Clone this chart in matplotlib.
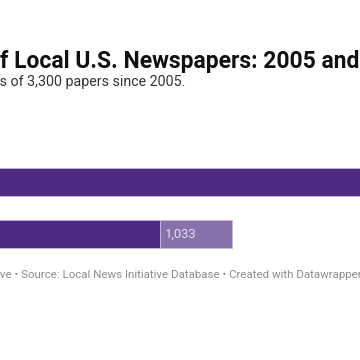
import matplotlib
matplotlib.use("Agg")
import matplotlib.pyplot as plt

# values (dark = weeklies, light = dailies)
years = ["2005", "2025"]
weeklies = [7441, 4567]
dailies = [1450, 1033]

title = "Number of Local U.S. Newspapers: 2005 and 2025"
subtitle = "The country has seen losses of 3,300 papers since 2005."
footer = ("Chart: Medill Local News Initiative \u2022 Source: Local News Initiative "
          "Database \u2022 Created with Datawrapper")

DARK = "#4f2a84"
LIGHT = "#8771ab"
EDGE = "#c6b9dc"

plt.rcParams["font.family"] = ["Roboto", "DejaVu Sans"]

W = H = 360
fig = plt.figure(figsize=(3.6, 3.6), dpi=100)
fig.patch.set_facecolor("white")

# bar area: the chart is cropped, so the axes start left of the canvas
scale = 72 / 1033  # px per paper
x0 = -158
total = max(w + d for w, d in zip(weeklies, dailies))
ax_w = total * scale
ax = fig.add_axes([x0 / W, (H - 256) / H, ax_w / W, 96 / H])
ax.set_xlim(0, total)
ax.set_ylim(1 + 22 / 52, -22 / 52)
ax.axis("off")

ypos = list(range(len(years)))
ax.barh(ypos, weeklies, height=28 / 52, color=DARK, edgecolor=EDGE, linewidth=0.6)
ax.barh(ypos, dailies, left=weeklies, height=28 / 52, color=LIGHT, edgecolor=EDGE, linewidth=0.6)
for y, w, d in zip(ypos, weeklies, dailies):
    ax.annotate(f"{d:,}", (w, y), xytext=(3.5, 0), textcoords="offset points",
                va="center", ha="left", color="#e6dff0", fontsize=9.3)

fig.canvas.draw()
renderer = fig.canvas.get_renderer()


def put_cropped(text, visible_from, px_x, px_y, **kw):
    """place text so that the part starting at `visible_from` begins at px_x"""
    idx = text.index(visible_from)
    probe = fig.text(0, 0, text[:idx] + "|", **kw)
    bar = fig.text(0, 0, "|", **kw)
    w = probe.get_window_extent(renderer).width - bar.get_window_extent(renderer).width
    probe.remove()
    bar.remove()
    fig.text((px_x - w) / W, (H - px_y) / H, text, va="baseline", ha="left", **kw)


put_cropped(title, "f Local", 0, 68, fontsize=16.5, fontweight="bold", color="#111111")
put_cropped(subtitle, "s of 3,300", 0, 86, fontsize=10.3, color="#333333")
put_cropped(footer, "ve \u2022 Source", 0, 278, fontsize=8.25, color="#8c8c8c")

fig.savefig("out.png", dpi=100)
